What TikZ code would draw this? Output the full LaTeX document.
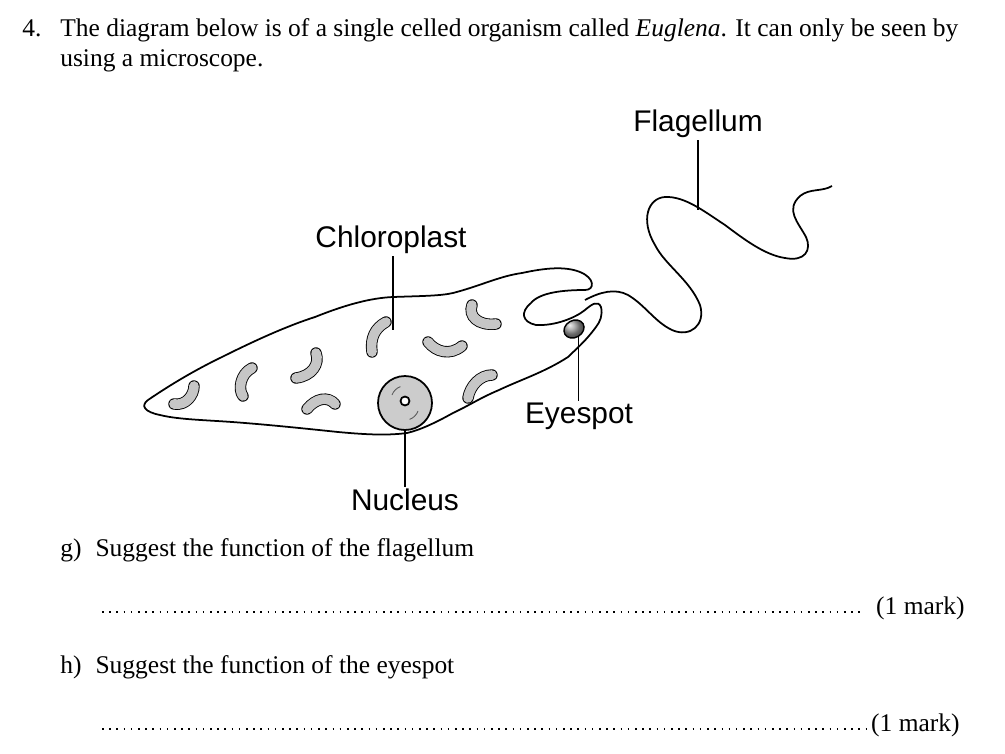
\documentclass[tikz,border=0pt]{standalone}
\usepackage{fontspec}
\setmainfont{Liberation Serif}
\setsansfont{Liberation Sans}
\usepackage{tikz}
\usetikzlibrary{positioning,shapes.geometric}

\begin{document}
\begin{tikzpicture}[x=0.02cm, y=-0.02cm,
  txt/.style={font=\fontsize{14.5}{17}\selectfont, anchor=base west, inner sep=0pt},
  lbl/.style={font=\sffamily\fontsize{17}{20}\selectfont, inner sep=1pt},
  pointer/.style={line width=0.8pt},
  plast/.style={double=gray!45, double distance=5.5pt, line width=0.5pt, line cap=round},
  dots/.style={line width=1.1pt, dash pattern=on 0.9pt off 3.2pt},]
  \useasboundingbox (0,0) rectangle (1005,754);
  % question text
  \node[txt] (q4) at (22,36) {4.};
  \node[txt] (intro) at (60,36) {The diagram below is of a single celled organism called \textit{Euglena}. It can only be seen by};
  \node[txt] (intro2) at (60,66) {using a microscope.};
  % body outline with the fold
  \draw[line width=1pt] (148,400) .. controls (170,385) and (195,370) .. (222,357)
    .. controls (260,338) and (290,325) .. (315,317)
    .. controls (345,305) and (370,298) .. (393,297)
    .. controls (420,296) and (440,296) .. (453,293)
    .. controls (480,286) and (500,276) .. (522,273)
    .. controls (545,268) and (565,266) .. (580,272)
    .. controls (595,278) and (595,290) .. (585,290)
    .. controls (565,290) and (540,292) .. (531,303)
    .. controls (520,312) and (522,322) .. (536,325)
    .. controls (555,326) and (575,318) .. (585,310)
    .. controls (592,304) and (598,300) .. (601,307)
    .. controls (603,315) and (600,322) .. (596,327)
    .. controls (585,342) and (575,350) .. (568,357)
    .. controls (545,372) and (520,380) .. (499,390)
    .. controls (480,398) and (470,405) .. (453,413)
    .. controls (435,423) and (420,430) .. (407,433)
    .. controls (385,436) and (360,434) .. (338,432)
    .. controls (300,428) and (270,425) .. (245,423)
    .. controls (210,420) and (180,420) .. (160,415)
    .. controls (145,412) and (140,406) .. cycle;
  % flagellum
  \draw[line width=1pt] (585,300) .. controls (600,292) and (615,288) .. (628,295)
    .. controls (645,305) and (655,322) .. (672,330)
    .. controls (690,338) and (706,325) .. (700,305)
    .. controls (690,280) and (665,265) .. (655,245)
    .. controls (640,220) and (648,198) .. (665,197)
    .. controls (685,196) and (705,212) .. (725,225)
    .. controls (745,240) and (765,255) .. (785,258)
    .. controls (805,262) and (812,250) .. (806,237)
    .. controls (798,222) and (785,210) .. (800,196)
    .. controls (810,188) and (822,192) .. (832,186);
  % chloroplasts
  \draw[plast] (174,404) .. controls (186,406) and (194,395) .. (194,386);
  \draw[plast] (252,368) .. controls (240,374) and (238,390) .. (243,396);
  \draw[plast] (316,353) .. controls (320,364) and (312,376) .. (296,378);
  \draw[plast] (307,409) .. controls (316,398) and (328,396) .. (335,404);
  \draw[plast] (386,322) .. controls (375,328) and (370,338) .. (372,352);
  \draw[plast] (428,342) .. controls (436,352) and (450,356) .. (462,346);
  \draw[plast] (472,305) .. controls (468,316) and (478,326) .. (496,324);
  \draw[plast] (492,375) .. controls (480,375) and (470,386) .. (468,398);
  % nucleus
  \node[circle, draw, line width=1pt, fill=gray!40, minimum size=1.08cm, inner sep=0pt] (nucleus) at (405,403) {};
  \draw[gray!70!black, line width=0.5pt] (392,395) arc (200:250:14) (418,411) arc (20:70:14);
  \node[circle, draw, line width=1pt, fill=white, minimum size=0.18cm, inner sep=0pt] (nucleolus) at (405,401) {};
  % eyespot
  \node[ellipse, draw, line width=0.8pt, ball color=gray!80, minimum width=0.42cm, minimum height=0.34cm, inner sep=0pt, rotate=30] (eyespot) at (574,329) {};
  % labels
  \node[lbl] (flagLbl) at (698,124) {Flagellum};
  \coordinate (flagPt) at (698,210);
  \draw[pointer] (flagLbl.south) -- (flagPt);
  \node[lbl] (chloroLbl) at (391,240) {Chloroplast};
  \coordinate (chloroPt) at (393,330);
  \draw[pointer] (chloroLbl.south -| chloroPt) -- (chloroPt);
  \node[lbl] (eyeLbl) at (579,416) {Eyespot};
  \draw[pointer] (eyeLbl.north -| eyespot.south) -- (eyespot.south);
  \node[lbl] (nucLbl) at (405,500) {Nucleus};
  \draw[pointer] (nucLbl.north) -- (nucleus.south);
  % questions
  \node[txt] (qg) at (60,556) {g)\hspace{0.55em}Suggest the function of the flagellum};
  \coordinate (dotsG) at (102,612);
  \node[txt, anchor=base east] (markG) at (965,614) {(1 mark)};
  \draw[dots] (dotsG) -- ([xshift=-8pt]markG.base west |- dotsG);
  \node[txt] (qh) at (60,673) {h)\hspace{0.55em}Suggest the function of the eyespot};
  \coordinate (dotsH) at (102,729);
  \node[txt, anchor=base east] (markH) at (960,731) {(1 mark)};
  \draw[dots] (dotsH) -- ([xshift=-2pt]markH.base west |- dotsH);
\end{tikzpicture}
\end{document}
